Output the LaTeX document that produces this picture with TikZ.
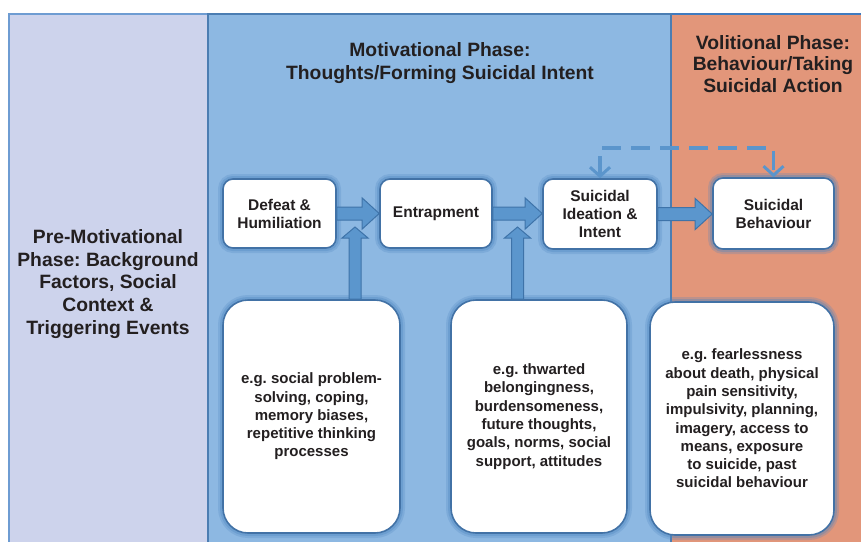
\documentclass[tikz,border=0pt]{standalone}
\usepackage{fontspec}
\setmainfont{Liberation Sans}
\frenchspacing
\usetikzlibrary{calc,arrows.meta}
\definecolor{lav}{HTML}{CDD3EC}
\definecolor{lavborder}{HTML}{6E9CD2}
\definecolor{blu}{HTML}{8DB8E2}
\definecolor{bluborder}{HTML}{4B7DB2}
\definecolor{orng}{HTML}{E2967A}
\definecolor{topline}{HTML}{3F7BC0}
\definecolor{boxborder}{HTML}{4272A6}
\definecolor{halo}{HTML}{4F86C0}
\definecolor{arrowfill}{HTML}{5B96CD}
\definecolor{arrowline}{HTML}{3E73A9}
\definecolor{dashcol}{HTML}{5B95CC}
\definecolor{txt}{HTML}{231F20}
\tikzset{
  titletext/.style={align=center, text=txt, font=\fontsize{19.3}{22.7}\selectfont\bfseries},
  smallbox/.style={draw=boxborder, line width=1.6pt, fill=white, rounded corners=10pt,
    align=center, text=txt, font=\fontsize{15.5}{18}\selectfont\bfseries, inner sep=0pt,
    preaction={draw=halo, draw opacity=0.25, line width=10pt},
    preaction={draw=halo, draw opacity=0.35, line width=6pt}},
  bigbox/.style={smallbox, rounded corners=25pt, font=\fontsize{15}{18.3}\selectfont\bfseries},
  barrow/.style={fill=arrowfill, draw=arrowline, line width=1pt, line join=miter},
  dasharrow/.style={draw=dashcol, line width=3.4pt, dash pattern=on 19pt off 10pt,
    {Straight Barb[length=9pt,width=20pt,line width=3pt]}-{Straight Barb[length=9pt,width=20pt,line width=3pt]}}
}
\newcommand{\harrowmine}[2]{%
  \draw[barrow] let \p1=(#1.east), \p2=(#2.west) in
    (\x1,\y1+6.5) -- (\x2-17,\y1+6.5) -- (\x2-17,\y1+15.5) -- (\x2,\y1) --
    (\x2-17,\y1-15.5) -- (\x2-17,\y1-6.5) -- (\x1,\y1-6.5) -- cycle;}
\newcommand{\varrowmine}[2]{%
  \draw[barrow] let \p1=(#2), \p2=(#1.north) in
    (\x1-6,\y2) -- (\x1-6,\y1-11) -- (\x1-13,\y1-11) -- (\x1,\y1) --
    (\x1+13,\y1-11) -- (\x1+6,\y1-11) -- (\x1+6,\y2) -- cycle;}
\begin{document}
\begin{tikzpicture}[x=1pt,y=-1pt]
\clip (0,0) rectangle (861,541);
\fill[white] (0,0) rectangle (861,541);
% panels
\draw[draw=lavborder, fill=lav, line width=1.5pt] (9,14) rectangle (208,560);
\fill[orng] (672,14) rectangle (875,560);
\draw[draw=topline, line width=2pt] (672,14) -- (875,14);
\draw[draw=bluborder, fill=blu, line width=1.5pt] (208,14) rectangle (671,560);
% titles
\node[titletext] (pre) at (108,284) {Pre-Motivational\\Phase: Background\\Factors, Social\\Context \&\\Triggering Events};
\node[titletext, font=\fontsize{19.3}{23}\selectfont\bfseries] (mot) at (440,63) {Motivational Phase:\\Thoughts/Forming Suicidal Intent};
\node[titletext, font=\fontsize{19.3}{21.5}\selectfont\bfseries] (vol) at (773,64) {Volitional Phase:\\Behaviour/Taking\\Suicidal Action};
% top boxes
\node[smallbox, minimum width=113pt, minimum height=69pt] (def) at (279.5,213.5) {Defeat \&\\Humiliation};
\node[smallbox, minimum width=112pt, minimum height=69pt] (ent) at (436,213.5) {Entrapment};
\node[smallbox, minimum width=114pt, minimum height=70pt] (ide) at (600,214) {Suicidal\\Ideation \&\\Intent};
\node[smallbox, minimum width=121pt, minimum height=71pt] (beh) at (773.5,213.5) {Suicidal\\Behaviour};
% bottom boxes
\node[bigbox, minimum width=177pt, minimum height=233pt] (mod1) at (311.5,416.5) {e.g. social problem-\\solving, coping,\\memory biases,\\repetitive thinking\\processes};
\node[bigbox, minimum width=176pt, minimum height=233pt] (mod2) at (539,416.5) {e.g. thwarted\\belongingness,\\burdensomeness,\\future thoughts,\\goals, norms, social\\support, attitudes};
\node[bigbox, minimum width=184pt, minimum height=233pt] (mod3) at (742,418.5) {e.g. fearlessness\\about death, physical\\pain sensitivity,\\impulsivity, planning,\\imagery, access to\\means, exposure\\to suicide, past\\suicidal behaviour};
% block arrows
\harrowmine{def}{ent}
\harrowmine{ent}{ide}
\harrowmine{ide}{beh}
\coordinate (tip1) at (355,227);
\coordinate (tip2) at (517.5,227);
\varrowmine{mod1}{tip1}
\varrowmine{mod2}{tip2}
% dashed feedback
\coordinate (dtop) at (687,148);
\draw[dasharrow] (ide.north) |- (dtop) -| (beh.north);
\end{tikzpicture}
\end{document}
